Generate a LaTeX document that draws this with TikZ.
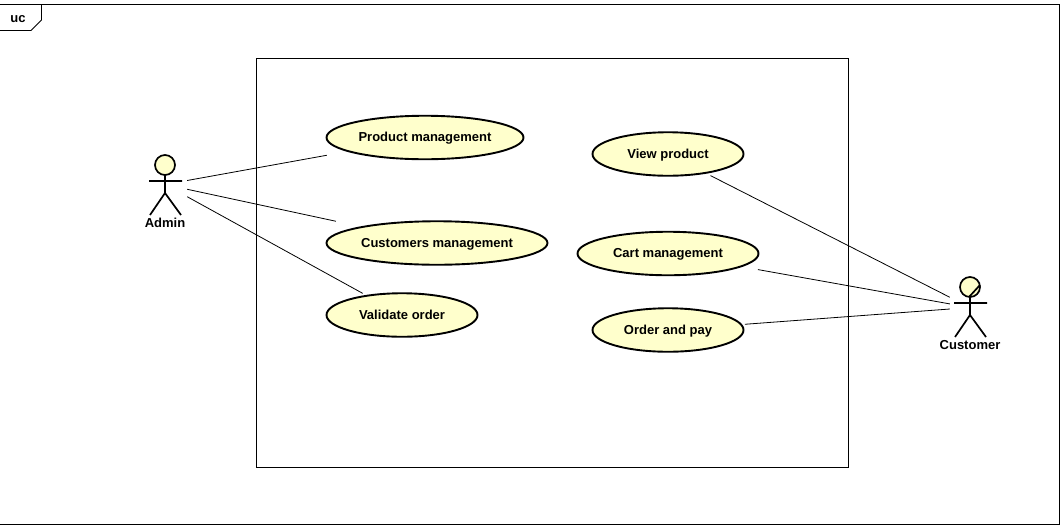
\documentclass[tikz,border=0pt]{standalone}
\usepackage{fontspec}
\setmainfont{Liberation Sans}
\usetikzlibrary{shapes.geometric}
\definecolor{ucfill}{HTML}{FFFFCC}
\tikzset{
  thinline/.style={draw=black,line width=0.9pt},
  usecase/.style={shape=ellipse,draw=black,fill=ucfill,line width=1.9pt,inner sep=0pt,
    minimum height=43.5pt,text height=11pt,text depth=3pt,font=\bfseries\fontsize{13}{14}\selectfont},
  actorbox/.style={shape=rectangle,inner sep=0pt,minimum width=#1,minimum height=60pt},
  actorlabel/.style={inner sep=0pt,text height=11pt,text depth=3pt,font=\bfseries\fontsize{13}{14}\selectfont},
  stick/.style={draw=black,line width=1.7pt},
  head/.style={draw=black,fill=ucfill,line width=1.7pt},
  assoc/.style={draw=black,line width=0.8pt}
}
\begin{document}
\begin{tikzpicture}[x=1pt,y=-1pt]
\useasboundingbox (0,0) rectangle (1064,528);
\fill[white] (0,0) rectangle (1064,528);
% frame
\draw[thinline] (-2,4.5) rectangle (1059.5,524.5);
\draw[thinline] (-2,30.5) -- (31,30.5) -- (41.5,20) -- (41.5,4.5);
\node[actorlabel] (frametag) at (18,18.5) {uc};
% system boundary
\draw[thinline] (256.5,58.5) rectangle (848.5,467.5);
% use cases
\node[usecase,minimum width=197pt] (pm) at (425,137.5) {Product management};
\node[usecase,minimum width=221pt] (cm) at (437,243) {Customers management};
\node[usecase,minimum width=151pt] (vo) at (402,315) {Validate order};
\node[usecase,minimum width=151pt] (vp) at (668,154) {View product};
\node[usecase,minimum width=181pt] (ca) at (668,253.5) {Cart management};
\node[usecase,minimum width=151pt] (op) at (668,330) {Order and pay};
% Admin
\node[actorbox=44pt] (admin) at (165,184.5) {};
\draw[head] (165,165) circle [radius=10];
\draw[stick] (165,175) -- (165,193) (149,181) -- (182,181) (150,215) -- (165,193) -- (181,215);
\node[actorlabel] (adminlabel) at (165,223) {Admin};
% Customer
\node[actorbox=40pt] (customer) at (970,307.5) {};
\draw[head] (970,287) circle [radius=10];
\draw[stick] (969,297) -- (980,285);
\draw[stick] (970,297) -- (970,315) (954,303) -- (987,303) (955,337) -- (970,315) -- (986,337);
\node[actorlabel] (customerlabel) at (970,345) {Customer};
% associations
\draw[assoc,shorten >=20.6pt] (admin) -- (pm);
\draw[assoc,shorten >=25pt] (admin) -- (cm);
\draw[assoc,shorten >=3.4pt] (admin) -- (vo);
\draw[assoc,shorten >=4.4pt] (customer) -- (vp);
\draw[assoc,shorten >=16pt] (customer) -- (ca);
\draw[assoc,shorten >=2.7pt] (customer) -- (op);
\end{tikzpicture}
\end{document}
